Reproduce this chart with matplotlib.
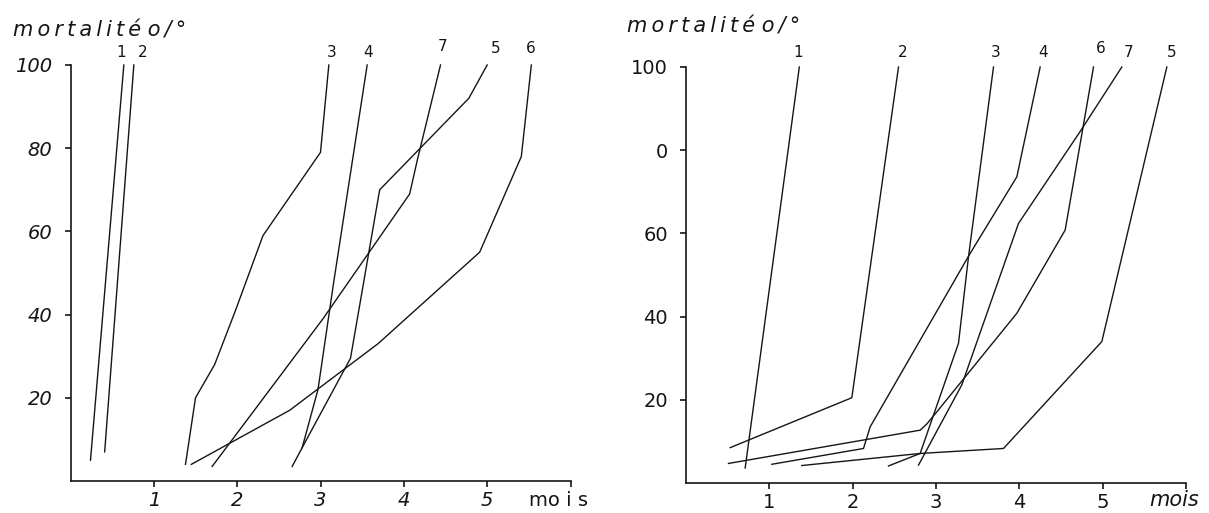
import matplotlib
matplotlib.use('Agg')
import matplotlib.pyplot as plt

# left panel : mortality (%) against months, curves 1..7
l1_x = [0.24, 0.64]
l1_y = [5, 100]
l2_x = [0.41, 0.76]
l2_y = [7, 100]
l3_x = [1.38, 1.50, 1.73, 1.98, 2.31, 3.00, 3.10]
l3_y = [4, 20, 28, 41, 59, 79, 100]
l4_x = [2.78, 2.97, 3.16, 3.56]
l4_y = [8, 22, 48, 100]
l5_x = [2.66, 2.82, 3.36, 3.71, 4.78, 5.00]
l5_y = [3.5, 9.5, 29.5, 70, 92, 100]
l6_x = [1.45, 2.63, 3.69, 4.91, 5.41, 5.53]
l6_y = [4, 17, 33, 55, 78, 100]
l7_x = [1.70, 3.03, 4.07, 4.16, 4.44]
l7_y = [3.5, 39, 69, 77, 100]

left_names = ['1', '2', '3', '4', '5', '6', '7']
left_name_x = [0.61, 0.87, 3.14, 3.57, 5.10, 5.52, 4.47]
left_name_y = [103, 103, 103, 103, 104, 104, 104.5]

# right panel
r1_x = [0.71, 1.36]
r1_y = [3.6, 100]
r2_x = [0.53, 1.99, 2.55]
r2_y = [8.5, 20.5, 100]
r3_x = [2.43, 2.81, 3.27, 3.39, 3.69]
r3_y = [4.1, 7.1, 33.6, 54.4, 100]
r4_x = [1.03, 2.13, 2.21, 3.41, 3.97, 4.25]
r4_y = [4.5, 8.3, 13.5, 55.2, 73.6, 100]
r5_x = [1.39, 2.81, 3.81, 4.99, 5.77]
r5_y = [4.2, 7.1, 8.3, 34, 100]
r6_x = [0.51, 2.81, 2.89, 3.01, 3.97, 4.55, 4.89]
r6_y = [4.7, 12.7, 14.2, 17.1, 40.8, 60.8, 100]
r7_x = [2.79, 3.31, 3.99, 4.73, 5.23]
r7_y = [4.3, 23.6, 62.4, 84.5, 100]

right_names = ['1', '2', '3', '4', '5', '6', '7']
right_name_x = [1.34, 2.60, 3.72, 4.28, 5.83, 4.98, 5.31]
right_name_y = [103.5, 103.5, 103.5, 103.5, 103.5, 104.5, 103.5]

y_ticks = [20, 40, 60, 80, 100]
left_ytick_labels = ['20', '40', '60', '80', '100']
right_ytick_labels = ['20', '40', '60', '0', '100']
x_ticks = [1, 2, 3, 4, 5, 6]
x_tick_labels = ['1', '2', '3', '4', '5', '']

W, H = 1209, 513
fig = plt.figure(figsize=(W / 100, H / 100), dpi=100)
fig.patch.set_facecolor('white')

ink = '#151515'
sp = '\u2009'  # thin space, the lettering on the scan is widely spaced
ytitle = sp.join('mortalité') + ' ' + sp.join('o/°')


def setup(ax, ylabels, style):
    ax.set_xlim(0, 6)
    ax.set_ylim(0, 100)
    for s in ['top', 'right']:
        ax.spines[s].set_visible(False)
    for s in ['left', 'bottom']:
        ax.spines[s].set_linewidth(1.2)
        ax.spines[s].set_color(ink)
    ax.set_xticks(x_ticks)
    ax.set_xticklabels(x_tick_labels, fontsize=14, style=style, color=ink)
    ax.set_yticks(y_ticks)
    ax.set_yticklabels(ylabels, fontsize=14, style=style, color=ink)
    ax.tick_params(axis='x', direction='out', length=4, width=1.2, pad=3, color=ink)
    ax.tick_params(axis='y', direction='out', length=4, width=1.2, pad=9, color=ink)
    ax.patch.set_alpha(0)


ax1 = fig.add_axes([70.5 / W, 32 / H, 500 / W, 416 / H])
ax2 = fig.add_axes([686 / W, 30 / H, 500 / W, 416 / H])
setup(ax1, left_ytick_labels, 'italic')
setup(ax2, right_ytick_labels, 'normal')

for xs, ys in [(l1_x, l1_y), (l2_x, l2_y), (l3_x, l3_y), (l4_x, l4_y),
               (l5_x, l5_y), (l6_x, l6_y), (l7_x, l7_y)]:
    ax1.plot(xs, ys, color=ink, lw=1.0, clip_on=False)
for n, x, y in zip(left_names, left_name_x, left_name_y):
    ax1.text(x, y, n, fontsize=11, ha='center', va='center', color=ink, clip_on=False)

for xs, ys in [(r1_x, r1_y), (r2_x, r2_y), (r3_x, r3_y), (r4_x, r4_y),
               (r5_x, r5_y), (r6_x, r6_y), (r7_x, r7_y)]:
    ax2.plot(xs, ys, color=ink, lw=1.0, clip_on=False)
for n, x, y in zip(right_names, right_name_x, right_name_y):
    ax2.text(x, y, n, fontsize=11, ha='center', va='center', color=ink, clip_on=False)

# axis titles
fig.text(13 / W, 1 - 30 / H, ytitle, fontsize=15, style='italic',
         ha='left', va='center', color=ink)
fig.text(627 / W, 1 - 26 / H, ytitle, fontsize=15, style='italic',
         ha='left', va='center', color=ink)
fig.text(529 / W, 1 - 500 / H, 'mo i s', fontsize=14, ha='left', va='center', color=ink)
fig.text(1149 / W, 1 - 500 / H, 'mois', fontsize=15, style='italic',
         ha='left', va='center', color=ink)

fig.savefig('out.png', dpi=100, facecolor='white')
